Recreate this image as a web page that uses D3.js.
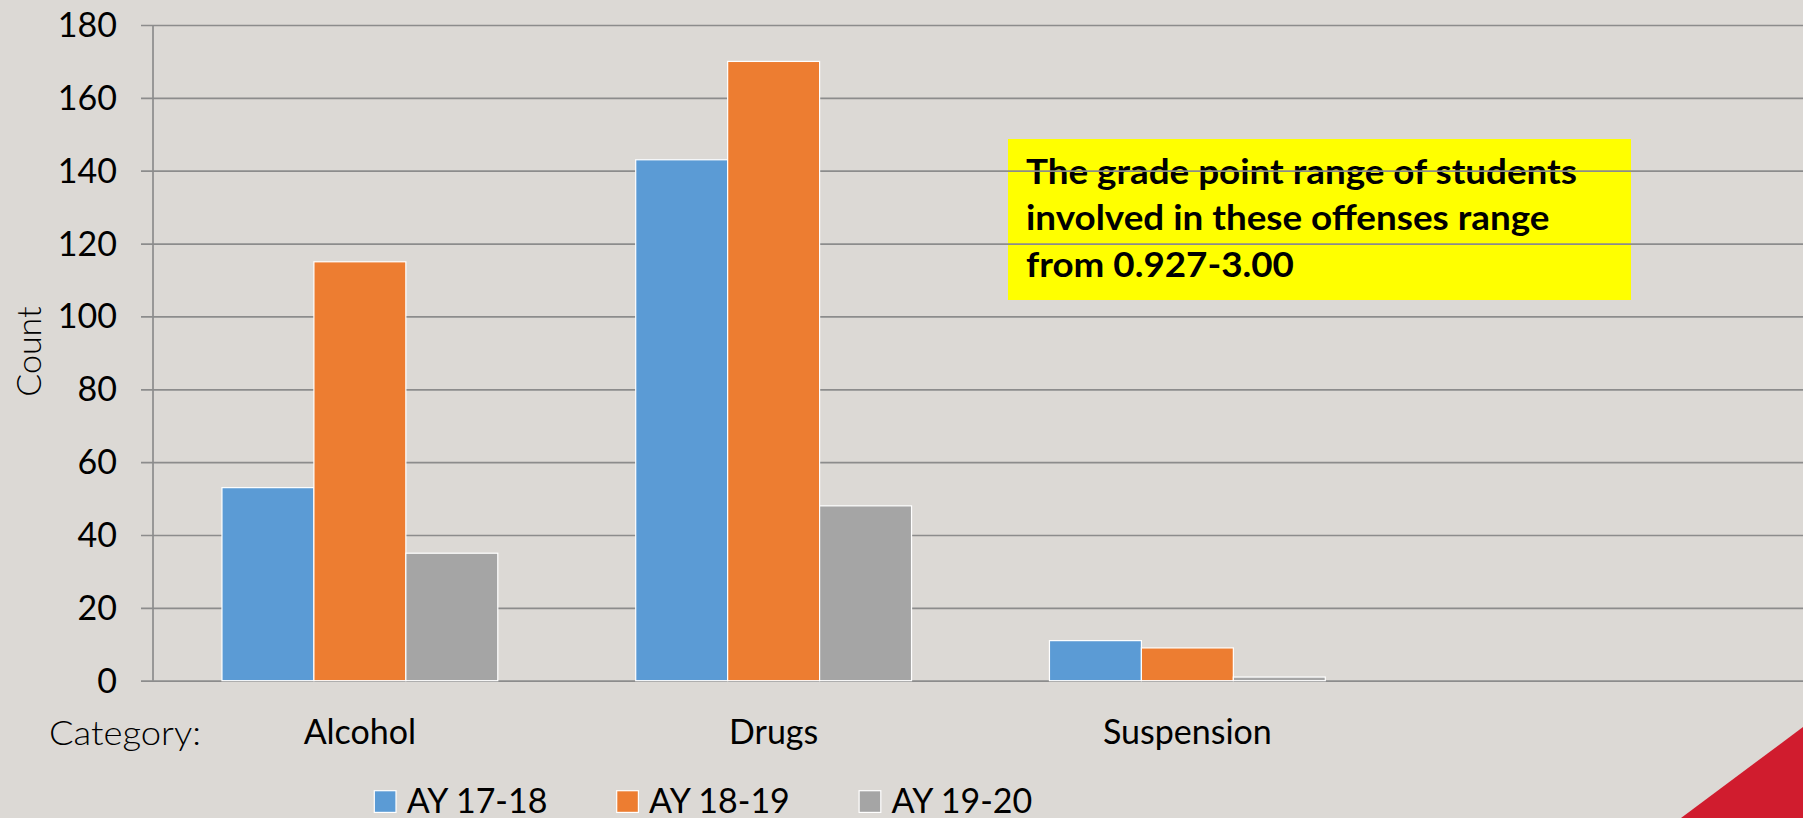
<!DOCTYPE html>
<html>
<head>
<meta charset="utf-8">
<script src="https://cdn.jsdelivr.net/npm/d3@7"></script>
<style>
  html, body { margin: 0; padding: 0; background: #DCD9D5; overflow: hidden; }
  svg { display: block; }
</style>
</head>
<body>
<svg id="chart" width="1803" height="818"></svg>
<script>
// ---- data ----
const categories = ["Alcohol", "Drugs", "Suspension", ""];
const seriesNames = ["AY 17-18", "AY 18-19", "AY 19-20"];
const ay1718 = [53, 143, 11, null];
const ay1819 = [115, 170, 9, null];
const ay1920 = [35, 48, 1, null];
const yTicks = [0, 20, 40, 60, 80, 100, 120, 140, 160, 180];
const noteLines = ["The grade point range of students", "involved in these offenses range", "from 0.927-3.00"];
const colors = ["#5B9BD5", "#ED7D31", "#A5A5A5"];

const W = 1803, H = 818;
const svg = d3.select("#chart");
const FONT = "Lato, 'Open Sans', sans-serif";
const gridColor = "#8C8C8C";

svg.append("rect").attr("width", W).attr("height", H).attr("fill", "#DCD9D5");

const x = d3.scaleBand().domain(categories).range([153, 1808]).paddingInner(0).paddingOuter(0);
const xs = d3.scaleBand().domain(seriesNames)
  .range([x.bandwidth() / 6, x.bandwidth() * 5 / 6]).padding(0);
const y = d3.scaleLinear().domain([0, 180]).range([680.7, 25]);

// annotation box (behind gridlines)
const note = svg.append("g");
note.append("rect").attr("x", 1008).attr("y", 139).attr("width", 623).attr("height", 161).attr("fill", "#FFFF00");
const noteText = note.selectAll("text").data(noteLines).join("text")
  .attr("x", 1026).attr("y", (d, i) => 184 + i * 46.3)
  .attr("font-family", FONT).attr("font-weight", 700).attr("font-size", 34.5)
  .attr("fill", "#000").text(d => d);
// widen glyph run slightly to match the original face's wider bold metrics
const firstW = noteText.node().getComputedTextLength();
const noteFactor = 551 / firstW;
noteText.each(function () {
  const w = this.getComputedTextLength();
  d3.select(this).attr("textLength", w * noteFactor).attr("lengthAdjust", "spacingAndGlyphs");
});

// gridlines + y axis
const yAxis = d3.axisLeft(y).tickValues(yTicks).tickSize(-(W - 141)).tickPadding(0).tickFormat(d3.format("d"));
const gAxis = svg.append("g").attr("transform", "translate(141,0)").call(yAxis);
gAxis.select(".domain").remove();
gAxis.selectAll(".tick line").attr("stroke", gridColor).attr("stroke-width", 1.7);
gAxis.selectAll(".tick text")
  .attr("x", -24).attr("dy", null).attr("y", 11.5)
  .attr("font-family", FONT).attr("font-size", 34).attr("fill", "#000").attr("text-anchor", "end");
svg.append("line").attr("x1", 153).attr("x2", 153).attr("y1", y(180)).attr("y2", y(0))
  .attr("stroke", gridColor).attr("stroke-width", 1.7);

// bars
const seriesVals = [ay1718, ay1819, ay1920];
const barData = [];
categories.forEach((c, i) => seriesNames.forEach((s, j) => {
  const v = seriesVals[j][i];
  if (v != null) barData.push({ c, s, v, j });
}));
svg.append("g").selectAll("rect").data(barData).join("rect")
  .attr("x", d => x(d.c) + xs(d.s))
  .attr("y", d => y(d.v))
  .attr("width", xs.bandwidth())
  .attr("height", d => y(0) - y(d.v))
  .attr("fill", d => colors[d.j])
  .attr("stroke", "#FFFFFF").attr("stroke-width", 1.2);

// category labels
svg.append("g").selectAll("text").data(categories.filter(c => c)).join("text")
  .attr("x", d => x(d) + x.bandwidth() / 2).attr("y", 744)
  .attr("text-anchor", "middle").attr("font-family", FONT).attr("font-size", 34)
  .attr("fill", "#000").text(d => d);
const catTitle = svg.append("text").attr("x", 49).attr("y", 745)
  .attr("font-family", FONT).attr("font-weight", 300).attr("font-size", 34)
  .attr("fill", "#000").text("Category:");
catTitle.attr("textLength", 152).attr("lengthAdjust", "spacingAndGlyphs");

// y title
svg.append("text").attr("transform", "translate(41,351.5) rotate(-90)")
  .attr("text-anchor", "middle").attr("font-family", FONT).attr("font-weight", 300).attr("font-size", 34)
  .attr("fill", "#000").text("Count");

// legend
const leg = svg.append("g").selectAll("g").data(seriesNames).join("g")
  .attr("transform", (d, i) => `translate(${374.3 + i * 242.4},0)`);
leg.append("rect").attr("x", 0).attr("y", 790.7).attr("width", 21.7).attr("height", 21.7)
  .attr("fill", (d, i) => colors[i]).attr("stroke", "#FFFFFF").attr("stroke-width", 1.2);
leg.append("text").attr("x", 32.4).attr("y", 813)
  .attr("font-family", FONT).attr("font-size", 34).attr("fill", "#000").text(d => d);

// red corner
svg.append("path").attr("d", `M1681,818 L1803,727 L1803,818 Z`).attr("fill", "#D01C2E");
</script>
</body>
</html>
